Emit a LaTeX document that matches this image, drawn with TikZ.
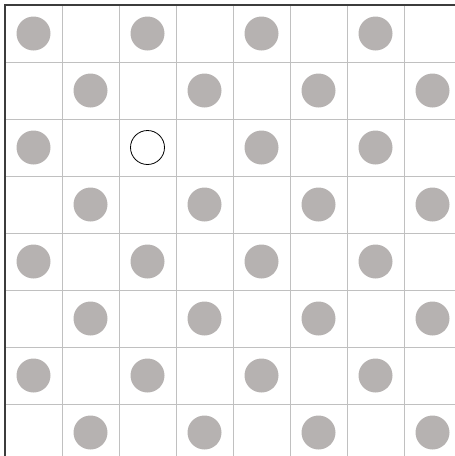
\documentclass[tikz,border=0pt]{standalone}
\begin{document}
\begin{tikzpicture}[x=1pt,y=-1pt,
  gridline/.style={draw=gridgray,line width=1pt},
  stone/.style={circle,fill=stonegray,draw=none,minimum size=34pt,inner sep=0pt},
  emptystone/.style={circle,fill=white,draw=black,line width=0.8pt,minimum size=34pt,inner sep=0pt}]
\definecolor{gridgray}{RGB}{192,192,192}
\definecolor{stonegray}{RGB}{182,178,177}
\definecolor{bordergray}{RGB}{60,60,60}
\useasboundingbox (0,0) rectangle (455,456);
\begin{scope}
\clip (0,0) rectangle (455,456);
\foreach \i in {1,...,8} {
  \draw[gridline] (5+57*\i,5) -- (5+57*\i,470);
  \draw[gridline] (5,5+57*\i) -- (470,5+57*\i);
}
\draw[draw=bordergray,line width=1.2pt] (5,470) -- (5,5) -- (470,5);
\end{scope}
\foreach \r in {0,...,7} {
  \foreach \c in {0,...,7} {
    \pgfmathtruncatemacro{\myparity}{mod(\r+\c,2)}
    \pgfmathtruncatemacro{\myempty}{(\r==2)&&(\c==2)}
    \ifnum\myparity=0
      \ifnum\myempty=1
        \node[emptystone] (s\r\c) at (5+57*\c+28.5,5+57*\r+28.5) {};
      \else
        \node[stone] (s\r\c) at (5+57*\c+28.5,5+57*\r+28.5) {};
      \fi
    \fi
  }
}
\end{tikzpicture}
\end{document}
